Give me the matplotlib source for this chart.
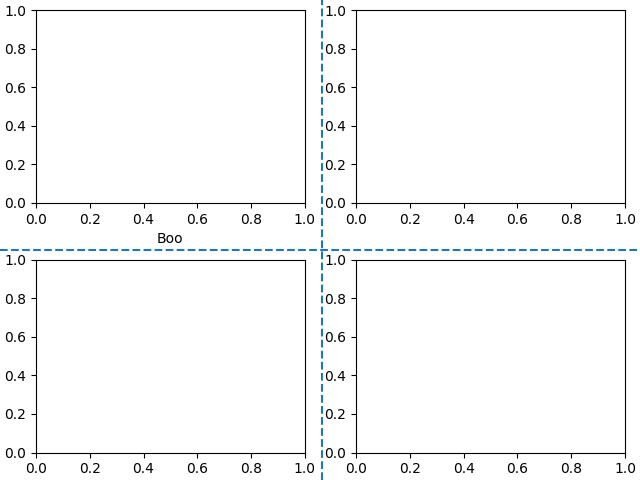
import matplotlib
matplotlib.use('Agg')
import matplotlib.pyplot as plt
from matplotlib.lines import Line2D

# Figure-level divider positions (figure fraction)
DIV_X = 321.7 / 640
DIV_Y = 1 - 250 / 480
XLABEL = 'Boo'

fig, axes = plt.subplots(2, 2, figsize=(6.4, 4.8), dpi=100)
fig.subplots_adjust(left=36 / 640, right=625 / 640,
                    top=1 - 10 / 480, bottom=1 - 452.5 / 480,
                    wspace=0.191, hspace=0.294)
axes[0, 0].set_xlabel(XLABEL)

fig.add_artist(Line2D([DIV_X, DIV_X], [0, 1], transform=fig.transFigure,
                      ls='--', color='C0'))
fig.add_artist(Line2D([0, 1], [DIV_Y, DIV_Y], transform=fig.transFigure,
                      ls='--', color='C0'))

fig.savefig('out.png', dpi=100)
